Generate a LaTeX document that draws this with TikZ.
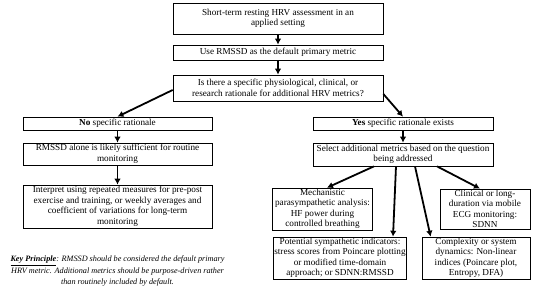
\documentclass[tikz,border=0pt]{standalone}
\usepackage{fontspec}
\setmainfont{Liberation Serif}
\usetikzlibrary{arrows.meta}

\begin{document}
\begin{tikzpicture}[x=1pt, y=-1pt,
  box/.style={draw, line width=0.7pt, align=center, inner sep=1pt,
    font=\fontsize{9.2}{10.5}\selectfont},
  arr/.style={-{Latex[length=6pt,width=6.5pt]}, line width=1.8pt},
  keytext/.style={align=center, inner sep=0pt,
    font=\fontsize{8.2}{11.5}\selectfont\itshape}]
  \fill[white] (0,0) rectangle (550,296);
  \useasboundingbox (0,0) rectangle (550,296);
  \node[box, minimum width=210pt, minimum height=31pt] (start) at (278,18.5)
    {Short-term resting HRV assessment in an\\applied setting};
  \node[box, minimum width=210pt, minimum height=15pt] (usermssd) at (278,52.5)
    {Use RMSSD as the default primary metric};
  \node[box, minimum width=210pt, minimum height=26pt] (quest) at (278,88)
    {Is there a specific physiological, clinical, or\\research rationale for additional HRV metrics?};
  \node[box, minimum width=189pt, minimum height=13pt] (no) at (117.5,123.5)
    {\textbf{No} specific rationale};
  \node[box, minimum width=189pt, minimum height=22pt] (alone) at (117.5,154)
    {RMSSD alone is likely sufficient for routine\\monitoring};
  \node[box, minimum width=189pt, minimum height=43pt] (interp) at (117.5,206.5)
    {Interpret using repeated measures for pre-post\\exercise and training, or weekly averages and\\coefficient of variations for long-term\\monitoring};
  \node[box, minimum width=180pt, minimum height=13pt] (yes) at (403,123.5)
    {\textbf{Yes} specific rationale exists};
  \node[box, minimum width=180pt, minimum height=23pt] (select) at (403,154.5)
    {Select additional metrics based on the question\\being addressed};
  \node[box, minimum width=100pt, minimum height=40pt] (mech) at (322.5,209)
    {Mechanistic\\parasympathetic analysis:\\HF power during\\controlled breathing};
  \node[box, minimum width=90pt, minimum height=40pt] (clin) at (485,209)
    {Clinical or long-\\duration via mobile\\ECG monitoring:\\SDNN};
  \node[box, minimum width=132pt, minimum height=38pt] (symp) at (340,258)
    {Potential sympathetic indicators:\\stress scores from Poincare plotting\\or modified time-domain\\approach; or SDNN:RMSSD};
  \node[box, minimum width=108pt, minimum height=38pt] (cplx) at (476,258)
    {Complexity or system\\dynamics: Non-linear\\indices (Poincare plot,\\Entropy, DFA)};
  \node[keytext] (key) at (117.5,271.5)
    {\underline{\textbf{Key Principle}}: RMSSD should be considered the default primary\\HRV metric. Additional metrics should be purpose-driven rather\\than routinely included by default.};
  \draw[arr] (start) -- (usermssd);
  \draw[arr] (usermssd) -- (quest);
  \draw[arr] ([yshift=-2pt]quest.west) -- (no.north);
  \draw[arr] ([yshift=-6pt]quest.east) -- (yes.north);
  \draw[arr] (no) -- (alone);
  \draw[arr] (alone) -- (interp);
  \draw[arr] (yes) -- (select);
  \draw[arr] ([xshift=-29pt]select.south) -- ([xshift=4.5pt]mech.north);
  \draw[arr] ([xshift=-7pt]select.south) -- ([xshift=-14pt]symp.north east);
  \draw[arr] ([xshift=12pt]select.south) -- ([xshift=9pt]cplx.north west);
  \draw[arr] ([xshift=34pt]select.south) -- ([xshift=-5pt]clin.north);
\end{tikzpicture}
\end{document}
